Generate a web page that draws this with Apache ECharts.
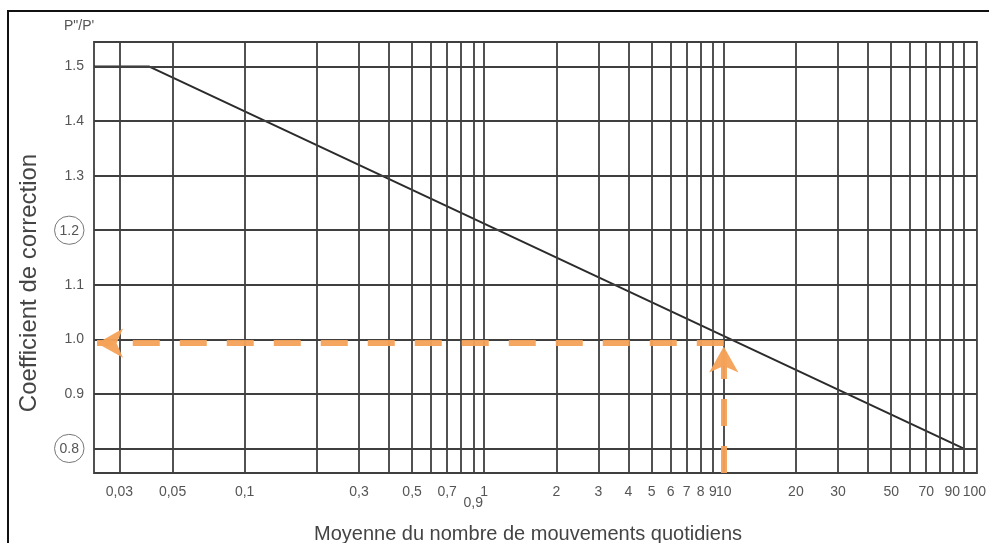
<!DOCTYPE html>
<html><head><meta charset="utf-8">
<script src="https://cdn.jsdelivr.net/npm/echarts@6/dist/echarts.min.js"></script>
<style>html,body{margin:0;padding:0;background:#fff}#c{width:989px;height:543px}</style>
</head><body><div id="c"></div>
<script>
// Axis extents
const xMin = 0.0235, xMax = 114;
const yMin = 0.755, yMax = 1.545;
// Grid / tick values
const xGridValues = [0.03,0.05,0.1,0.2,0.3,0.4,0.5,0.6,0.7,0.8,0.9,1,2,3,4,5,6,7,8,9,10,20,30,40,50,60,70,80,90,100];
const xLabelValues = [0.03,0.05,0.1,0.3,0.5,0.7,0.9,1,2,3,4,5,6,7,8,9,10,20,30,50,70,90,100];
const yTickValues = [0.8,0.9,1.0,1.1,1.2,1.3,1.4,1.5];
const circledY = [0.8,1.2];
// Correction curve
const curveX = [0.0235, 0.04, 100];
const curveY = [1.5, 1.5, 0.8];
// Reading example (orange arrows)
const readX = 10;
const readY = 0.993;
const arrowTipX = 0.0242;
const arrowTipY = 0.987;

const chart = echarts.init(document.getElementById('c'), null, {renderer:'canvas'});
const gridColor = '#3f3f3f';
const labelColor = '#555';
const orange = '#F4A259';

const gridMarks = xGridValues.map(v => ({xAxis: v})).concat(yTickValues.map(v => ({yAxis: v})));

chart.setOption({
  animation: false,
  backgroundColor: '#fff',
  grid: {left: 94, right: 11, top: 42, bottom: 70, show: true, borderColor: gridColor, borderWidth: 1.8},
  xAxis: {
    type: 'log', logBase: 10, min: xMin, max: xMax,
    axisLine: {show: false}, splitLine: {show: false}, minorSplitLine:{show:false},
    axisTick: {show: false},
    axisLabel: {
      customValues: xLabelValues, interval: 0, hideOverlap: false, margin: 12,
      color: labelColor, fontSize: 14, fontFamily: 'Liberation Sans, Arial, sans-serif',
      formatter: v => {
        const s = String(+v.toPrecision(6)).replace('.', ',');
        if (Math.abs(v - 0.9) < 1e-9) return '{low|' + s + '}';
        if (Math.abs(v - 100) < 1e-9) return '{r|' + s + '}';
        return s;
      },
      rich: {
        low: {padding: [11, 0, 0, 0], color: labelColor, fontSize: 14},
        r: {padding: [0, 0, 0, 22], color: labelColor, fontSize: 14}
      }
    }
  },
  yAxis: {
    type: 'value', min: yMin, max: yMax,
    axisLine: {show: false}, splitLine: {show: false}, axisTick: {show: false},
    axisLabel: {
      customValues: yTickValues, margin: 10,
      color: labelColor, fontSize: 14, fontFamily: 'Liberation Sans, Arial, sans-serif',
      formatter: v => {
        const s = (+v).toFixed(1);
        if (circledY.some(c => Math.abs(c - v) < 1e-9)) return '{c|' + s + '}';
        return s;
      },
      rich: {
        c: {borderColor: '#777', borderWidth: 1, borderRadius: 15, padding: [8, 5, 6, 5], color: labelColor, fontSize: 14}
      }
    }
  },
  series: [
    {
      type: 'line', data: [], silent: true, z: 1,
      markLine: {
        silent: true, symbol: ['none','none'], animation: false,
        label: {show: false},
        lineStyle: {color: gridColor, width: 1.8, type: 'solid'},
        data: gridMarks
      }
    },
    {
      type: 'line', silent: true, z: 3,
      data: curveX.map((x, i) => [x, curveY[i]]),
      symbol: 'none',
      lineStyle: {color: '#2b2b2b', width: 2}
    },
    {
      type: 'line', data: [], silent: true, z: 4,
      markLine: {
        silent: true, animation: false,
        symbol: ['none','arrow'], symbolSize: [22, 26],
        label: {show: false},
        lineStyle: {color: orange, width: 6, type: [27, 20], cap: 'butt', opacity: 0.95},
        itemStyle: {color: orange},
        data: [
          [{coord: [readX, readY]}, {coord: [arrowTipX, readY]}],
          [{coord: [readX, yMin]}, {coord: [readX, arrowTipY]}]
        ]
      }
    }
  ],
  graphic: [
    {type: 'rect', shape: {x: 8, y: 11, width: 1000, height: 600}, style: {fill: 'none', stroke: '#111', lineWidth: 2}, silent: true},
    {type: 'text', x: 64, y: 26, style: {text: 'P"/P\'', fill: '#555', fontSize: 14, fontFamily: 'Liberation Sans, Arial, sans-serif', verticalAlign: 'middle'}},
    {type: 'text', x: 29, y: 283, rotation: Math.PI / 2, style: {text: 'Coefficient de correction', fill: '#444', fontSize: 24, fontFamily: 'Liberation Sans, Arial, sans-serif', align: 'center', verticalAlign: 'middle'}},
    {type: 'text', x: 528, y: 534, style: {text: 'Moyenne du nombre de mouvements quotidiens', fill: '#444', fontSize: 20, fontFamily: 'Liberation Sans, Arial, sans-serif', align: 'center', verticalAlign: 'middle'}}
  ]
});
</script>
</body></html>
